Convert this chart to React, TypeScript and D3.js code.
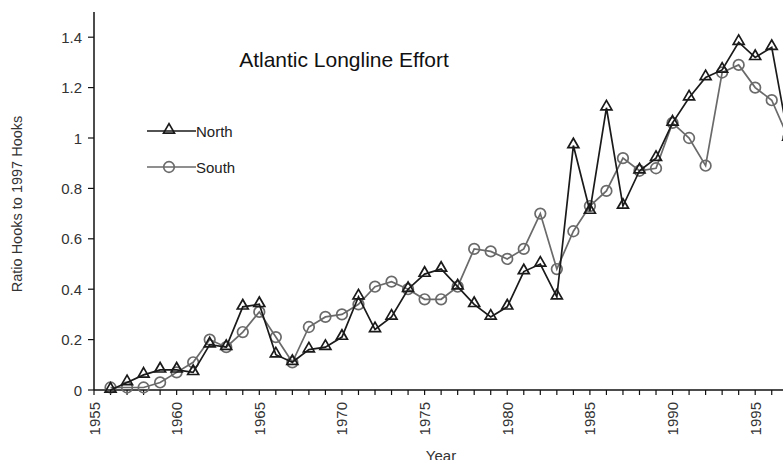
import React, { useEffect, useRef } from 'react'
import * as d3 from 'd3'

// years 1956..1997
const years = d3.range(1956, 1998)

const north = [
  0.0, 0.03, 0.06, 0.08, 0.08, 0.07, 0.18, 0.17, 0.33, 0.34,
  0.14, 0.11, 0.16, 0.17, 0.21, 0.37, 0.24, 0.29, 0.40, 0.46,
  0.48, 0.41, 0.34, 0.29, 0.33, 0.47, 0.50, 0.37, 0.97, 0.71,
  1.12, 0.73, 0.87, 0.92, 1.06, 1.16, 1.24, 1.27, 1.38, 1.32,
  1.36, 1.0,
]

const south = [
  0.01, 0.01, 0.01, 0.03, 0.07, 0.11, 0.20, 0.17, 0.23, 0.31,
  0.21, 0.11, 0.25, 0.29, 0.30, 0.34, 0.41, 0.43, 0.40, 0.36,
  0.36, 0.41, 0.56, 0.55, 0.52, 0.56, 0.70, 0.48, 0.63, 0.73,
  0.79, 0.92, 0.87, 0.88, 1.06, 1.00, 0.89, 1.26, 1.29, 1.20,
  1.15, 1.0,
]

const yTicks = [0, 0.2, 0.4, 0.6, 0.8, 1, 1.2, 1.4]
const xLabels = [1955, 1960, 1965, 1970, 1975, 1980, 1985, 1990, 1995]

const W = 783
const H = 460
const FONT = '"Liberation Sans", Arial, sans-serif'

export default function App() {
  const ref = useRef<SVGSVGElement>(null)

  useEffect(() => {
    const svg = d3.select(ref.current!)
    svg.selectAll('*').remove()

    // axis runs past the right edge of the picture, as in the original
    const x = d3.scaleLinear().domain([1955, 2000]).range([94, 94 + 45 * 16.53])
    const y = d3.scaleLinear().domain([0, 1.5]).range([390, 12])

    // axes
    const xAxis = svg.append('g').attr('transform', `translate(0,${y(0)})`)
    xAxis.append('line')
      .attr('x1', x(1955)).attr('x2', W + 10)
      .attr('stroke', '#111').attr('stroke-width', 1.5)
    xAxis.selectAll('line.tick')
      .data(d3.range(1955, 1998))
      .enter().append('line')
      .attr('class', 'tick')
      .attr('x1', d => x(d)).attr('x2', d => x(d))
      .attr('y1', 0).attr('y2', 5)
      .attr('stroke', '#111').attr('stroke-width', 1.2)
    xAxis.selectAll('text')
      .data(xLabels)
      .enter().append('text')
      .attr('transform', d => `translate(${x(d) + 5.5},12) rotate(-90)`)
      .attr('text-anchor', 'end')
      .attr('font-family', FONT)
      .attr('font-size', 15)
      .attr('fill', '#333')
      .text(d => d)

    const yAxis = svg.append('g').attr('transform', `translate(${x(1955)},0)`)
    yAxis.append('line')
      .attr('y1', y(0)).attr('y2', y(1.5))
      .attr('stroke', '#111').attr('stroke-width', 1.5)
    yAxis.selectAll('line.tick')
      .data(yTicks)
      .enter().append('line')
      .attr('class', 'tick')
      .attr('x1', -6).attr('x2', 0)
      .attr('y1', d => y(d)).attr('y2', d => y(d))
      .attr('stroke', '#111').attr('stroke-width', 1.2)
    yAxis.selectAll('text')
      .data(yTicks)
      .enter().append('text')
      .attr('x', -12)
      .attr('y', d => y(d) + 5.5)
      .attr('text-anchor', 'end')
      .attr('font-family', FONT)
      .attr('font-size', 15)
      .attr('fill', '#333')
      .text(d => String(d))

    // axis titles
    svg.append('text')
      .attr('transform', `translate(22,204) rotate(-90)`)
      .attr('text-anchor', 'middle')
      .attr('font-family', FONT)
      .attr('font-size', 14.5)
      .attr('fill', '#333')
      .text('Ratio Hooks to 1997 Hooks')

    svg.append('text')
      .attr('x', 441).attr('y', 461)
      .attr('text-anchor', 'middle')
      .attr('font-family', FONT)
      .attr('font-size', 15)
      .attr('fill', '#333')
      .text('Year')

    svg.append('text')
      .attr('x', 344).attr('y', 67)
      .attr('text-anchor', 'middle')
      .attr('font-family', FONT)
      .attr('font-size', 21)
      .attr('fill', '#111')
      .text('Atlantic Longline Effort')

    const line = d3.line<number>()
      .x((_d, i) => x(years[i]))
      .y(d => y(d))

    const tri = d3.symbol().type(d3.symbolTriangle).size(52)

    const drawSeries = (vals: number[], color: string, marker: 'tri' | 'circle') => {
      const g = svg.append('g')
      g.append('path')
        .attr('d', line(vals)!)
        .attr('fill', 'none')
        .attr('stroke', color)
        .attr('stroke-width', 1.7)
      if (marker === 'tri') {
        g.selectAll('path.m')
          .data(vals)
          .enter().append('path')
          .attr('class', 'm')
          .attr('d', tri()!)
          .attr('transform', (d, i) => `translate(${x(years[i])},${y(d) - 1})`)
          .attr('fill', 'none')
          .attr('stroke', color)
          .attr('stroke-width', 1.7)
      } else {
        g.selectAll('circle')
          .data(vals)
          .enter().append('circle')
          .attr('cx', (_d, i) => x(years[i]))
          .attr('cy', d => y(d))
          .attr('r', 5.3)
          .attr('fill', 'none')
          .attr('stroke', color)
          .attr('stroke-width', 1.7)
      }
    }

    drawSeries(south, '#6a6a6a', 'circle')
    drawSeries(north, '#1a1a1a', 'tri')

    // legend
    const legend = [
      { name: 'North', color: '#1a1a1a', marker: 'tri', y: 131 },
      { name: 'South', color: '#6a6a6a', marker: 'circle', y: 167 },
    ]
    legend.forEach(l => {
      const g = svg.append('g')
      g.append('line')
        .attr('x1', 147).attr('x2', 196)
        .attr('y1', l.y).attr('y2', l.y)
        .attr('stroke', l.color).attr('stroke-width', 1.7)
      if (l.marker === 'tri') {
        g.append('path')
          .attr('d', tri()!)
          .attr('transform', `translate(169,${l.y - 1})`)
          .attr('fill', 'none')
          .attr('stroke', l.color)
          .attr('stroke-width', 1.7)
      } else {
        g.append('circle')
          .attr('cx', 169).attr('cy', l.y).attr('r', 5.3)
          .attr('fill', 'none')
          .attr('stroke', l.color)
          .attr('stroke-width', 1.7)
      }
      g.append('text')
        .attr('x', 196).attr('y', l.y + 5.5)
        .attr('font-family', FONT)
        .attr('font-size', 15)
        .attr('fill', '#222')
        .text(l.name)
    })
  }, [])

  return (
    <svg
      ref={ref}
      width={W}
      height={H}
      style={{ position: 'absolute', left: 0, top: 0, background: '#fff' }}
    />
  )
}
